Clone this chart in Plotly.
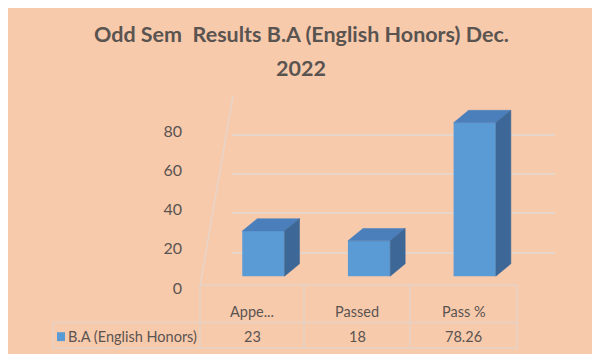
import plotly.graph_objects as go

# ---- data ----
categories = ["Appeared", "Passed", "Pass %"]
header_labels = ["Appe...", "Passed", "Pass %"]
values = [23, 18, 78.26]
value_labels = ["23", "18", "78.26"]
series_name = "B.A (English Honors)"
y_tickvals = [0, 20, 40, 60, 80, 100]
y_ticktext = ["0", "20", "40", "60", "80", ""]
title_lines = ["Odd Sem &nbsp;Results B.A (English Honors) Dec.", "2022"]

# ---- style ----
# The page body keeps its default 8px margin, so the figure is 16px smaller than
# the 600x362 window and all positions below are given in window pixels.
VW, VH, M = 600, 362, 8
W, H = VW - 2 * M, VH - 2 * M
BG = "#F8CAAC"
FRONT = "#5B9BD5"
TOP = "#4A7FBC"
SIDE = "#3C6796"
GRID = "#E7D5CA"
TXT = "#5A5451"
FONT = "Lato, Roboto, sans-serif"


def fx(px):
    return (px - M) / W


def fy(py):
    return 1 - (py - M) / H


positions = list(range(len(categories)))
bar_w = 0.40
bar_off = -0.10
dx = 0.142   # depth in x (category units)
dy = 6.3     # depth in y (value units)

fig = go.Figure()

# anchor traces for the back-wall axes (gridlines) and the label axis
fig.add_trace(go.Scatter(x=[], y=[], xaxis="x", yaxis="y", showlegend=False, hoverinfo="skip"))
fig.add_trace(go.Scatter(x=[], y=[], xaxis="x", yaxis="y3", showlegend=False, hoverinfo="skip"))

# front faces
fig.add_trace(go.Bar(
    x=positions, y=values, width=bar_w, offset=bar_off,
    marker=dict(color=FRONT, line=dict(width=0)),
    xaxis="x2", yaxis="y2", name=series_name, showlegend=False, hoverinfo="skip",
))

# top and side faces computed from the values
for p, v in zip(positions, values):
    xl = p + bar_off
    xr = xl + bar_w
    fig.add_trace(go.Scatter(
        x=[xl, xr, xr + dx, xl + dx, xl], y=[v, v, v + dy, v + dy, v],
        fill="toself", fillcolor=TOP, mode="lines", line=dict(color=TOP, width=0.5),
        xaxis="x2", yaxis="y2", showlegend=False, hoverinfo="skip",
    ))
    fig.add_trace(go.Scatter(
        x=[xr, xr + dx, xr + dx, xr, xr], y=[0, dy, v + dy, v, 0],
        fill="toself", fillcolor=SIDE, mode="lines", line=dict(color=SIDE, width=0.5),
        xaxis="x2", yaxis="y2", showlegend=False, hoverinfo="skip",
    ))

shapes = []
# cover the zero gridline (floor area)
shapes.append(dict(type="rect", xref="paper", yref="paper", layer="between",
                   x0=fx(220), x1=fx(565), y0=fy(301), y1=fy(291),
                   fillcolor=BG, line=dict(width=0)))
# left wall edge
shapes.append(dict(type="line", xref="paper", yref="paper", layer="below",
                   x0=fx(233), y0=fy(97), x1=fx(200), y1=fy(290),
                   line=dict(color=GRID, width=1.5)))

# data table
col_edges = [200, 304, 410, 517]
t_top, t_mid, t_bot, t_left = 289, 327, 353, 53
LC = "#E4D2C6"
shapes.append(dict(type="line", xref="paper", yref="paper", x0=fx(col_edges[0]), x1=fx(col_edges[-1]),
                   y0=fy(t_top), y1=fy(t_top), line=dict(color=LC, width=1.5)))
shapes.append(dict(type="line", xref="paper", yref="paper", x0=fx(t_left), x1=fx(col_edges[-1]),
                   y0=fy(t_mid), y1=fy(t_mid), line=dict(color=LC, width=1.5)))
shapes.append(dict(type="line", xref="paper", yref="paper", x0=fx(t_left), x1=fx(col_edges[-1]),
                   y0=fy(t_bot), y1=fy(t_bot), line=dict(color=LC, width=1.5)))
shapes.append(dict(type="line", xref="paper", yref="paper", x0=fx(t_left), x1=fx(t_left),
                   y0=fy(t_mid), y1=fy(t_bot), line=dict(color=LC, width=1.5)))
for cx in col_edges:
    shapes.append(dict(type="line", xref="paper", yref="paper", x0=fx(cx), x1=fx(cx),
                       y0=fy(t_top), y1=fy(t_bot), line=dict(color=LC, width=1.5)))
# legend key
shapes.append(dict(type="rect", xref="paper", yref="paper", x0=fx(57), x1=fx(65),
                   y0=fy(346), y1=fy(337), fillcolor=FRONT, line=dict(width=0)))

annotations = []
for i, (h, vl) in enumerate(zip(header_labels, value_labels)):
    cx = (col_edges[i] + col_edges[i + 1]) / 2
    annotations.append(dict(xref="paper", yref="paper", x=fx(cx), y=fy(316), text=h, showarrow=False,
                            font=dict(family=FONT, size=14.5, color=TXT), xanchor="center", yanchor="middle"))
    annotations.append(dict(xref="paper", yref="paper", x=fx(cx), y=fy(341), text=vl, showarrow=False,
                            font=dict(family=FONT, size=14.5, color=TXT), xanchor="center", yanchor="middle"))
annotations.append(dict(xref="paper", yref="paper", x=fx(66), y=fy(341), text=series_name, showarrow=False,
                        font=dict(family=FONT, size=14.5, color=TXT), xanchor="left", yanchor="middle"))
# chart title (two lines)
for line, ty in zip(title_lines, [34, 69]):
    annotations.append(dict(xref="paper", yref="paper", x=fx(301), y=fy(ty), text=line, showarrow=False,
                            font=dict(family=FONT, size=21.5, color=TXT, weight="bold"),
                            xanchor="center", yanchor="middle"))

fig.update_layout(
    width=W, height=H,
    margin=dict(l=0, r=0, t=0, b=0),
    paper_bgcolor=BG, plot_bgcolor="rgba(0,0,0,0)",
    showlegend=False,
    xaxis=dict(domain=[fx(232), fx(555)], range=[0, 1], showgrid=False, showticklabels=False,
               zeroline=False, showline=False, ticks="", anchor="y"),
    # back-wall gridlines
    yaxis=dict(domain=[fy(296), fy(97)], range=[0, 100], tickvals=y_tickvals, showticklabels=False,
               showgrid=True, gridcolor=GRID, gridwidth=2, zeroline=False, showline=False, ticks="",
               anchor="x"),
    # value labels sit on the front edge of the side wall, slightly above the gridlines
    yaxis3=dict(overlaying="y", side="left", anchor="x", range=[-2, 98], tickvals=y_tickvals,
                ticktext=y_ticktext, showgrid=False, zeroline=False, showline=False, ticks="",
                ticklabelstandoff=49, tickfont=dict(family=FONT, size=16, color=TXT)),
    xaxis2=dict(domain=[fx(200), fx(517)], range=[-0.5, 2.5], visible=False, anchor="y2"),
    yaxis2=dict(domain=[fy(296), fy(97)], range=[-8, 92], visible=False, anchor="x2"),
    shapes=shapes,
    annotations=annotations,
    bargap=0.6,
)

fig.write_html("out.html", config={"displayModeBar": False})
